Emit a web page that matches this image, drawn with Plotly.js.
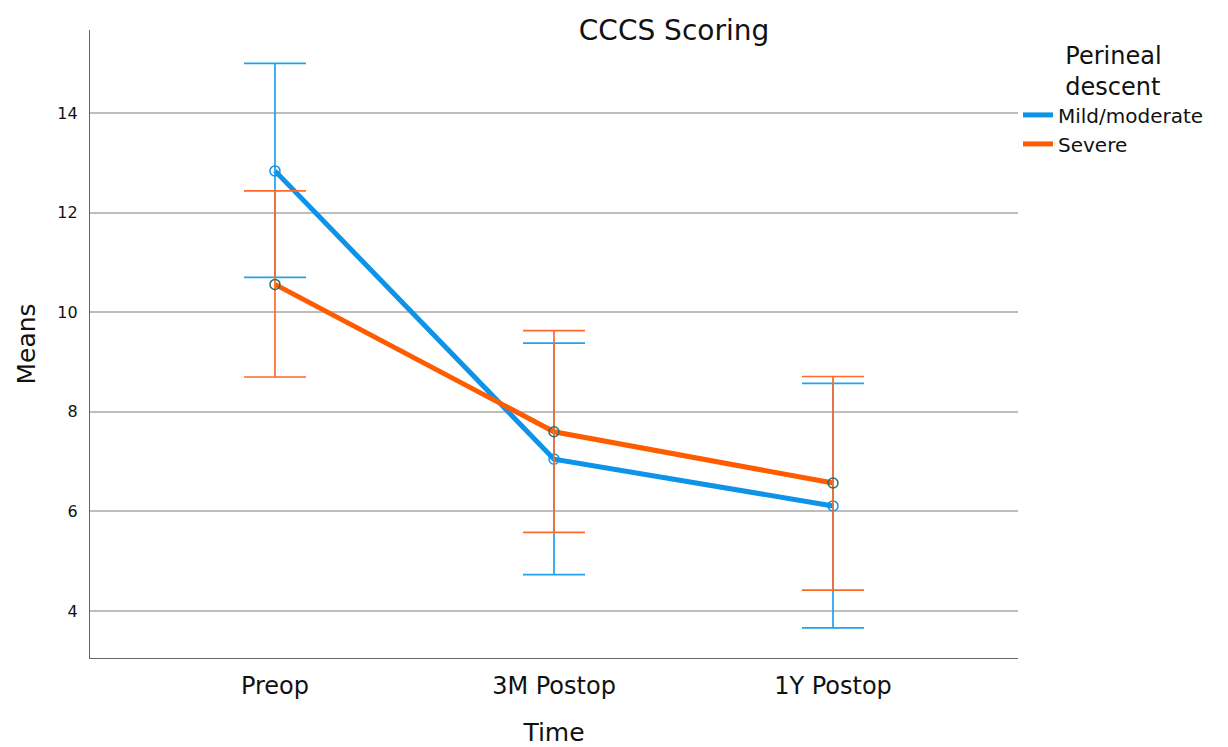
<!DOCTYPE html>
<html>
<head>
<meta charset="utf-8">
<script src="https://cdn.plot.ly/plotly-3.0.1.min.js"></script>
<style>html,body{margin:0;padding:0;background:#fff;}#chart{width:1228px;height:747px;}</style>
</head>
<body>
<div id="chart"></div>
<script>
const categories = ["Preop", "3M Postop", "1Y Postop"];
const mildMeans = [12.84, 7.05, 6.11];
const mildLower = [10.70, 4.73, 3.66];
const mildUpper = [15.00, 9.38, 8.57];
const severeMeans = [10.56, 7.60, 6.57];
const severeLower = [8.70, 5.58, 4.42];
const severeUpper = [12.44, 9.63, 8.71];
const yTicks = [4, 6, 8, 10, 12, 14];

const blueLine = '#0f93e8';
const blueErr = '#20a3ec';
const orangeLine = '#ff5c00';
const orangeErr = '#ff6a2a';
const FONT = 'DejaVu Sans, Liberation Sans, sans-serif';

function diff(a, b) { return a.map((v, i) => v - b[i]); }

const traces = [
  {x: categories, y: mildMeans, mode: 'lines', name: 'Mild/moderate',
   line: {color: blueLine, width: 5}},
  {x: categories, y: severeMeans, mode: 'lines', name: 'Severe',
   line: {color: orangeLine, width: 5}},
  {x: categories, y: mildMeans, mode: 'markers', showlegend: false, hoverinfo: 'skip',
   marker: {symbol: 'circle-open', size: 10, color: blueLine, line: {width: 1.5}},
   error_y: {type: 'data', symmetric: false, array: diff(mildUpper, mildMeans),
             arrayminus: diff(mildMeans, mildLower), color: blueErr, thickness: 1.7, width: 31}},
  {x: categories, y: severeMeans, mode: 'markers', showlegend: false, hoverinfo: 'skip',
   marker: {symbol: 'circle-open', size: 10, color: '#2e6e68', line: {width: 1.5}},
   error_y: {type: 'data', symmetric: false, array: diff(severeUpper, severeMeans),
             arrayminus: diff(severeMeans, severeLower), color: orangeErr, thickness: 1.7, width: 31}}
];

const layout = {
  width: 1228, height: 747,
  margin: {l: 90, r: 208, t: 30, b: 89},
  paper_bgcolor: '#fff', plot_bgcolor: '#fff',
  font: {family: FONT, color: '#111'},
  title: {text: 'CCCS Scoring', font: {size: 28, family: FONT, color: '#111'},
          x: 674/1228, xref: 'container', xanchor: 'center',
          y: 1 - 30/747, yref: 'container', yanchor: 'middle'},
  xaxis: {type: 'category', range: [-0.663, 2.663], showgrid: false,
          showline: true, linecolor: '#666', linewidth: 1.2, ticks: '',
          tickfont: {size: 24, family: FONT, color: '#111'}, ticklabelstandoff: 6,
          title: {text: 'Time', font: {size: 25, family: FONT, color: '#111'}, standoff: 26},
          zeroline: false, fixedrange: true},
  yaxis: {range: [3.055, 15.67], tickvals: yTicks, ticktext: yTicks.map(String),
          showgrid: true, gridcolor: '#bdbdbd', gridwidth: 2,
          showline: true, linecolor: '#666', linewidth: 1.2, ticks: '',
          tickfont: {size: 16, family: FONT, color: '#111'}, ticklabelstandoff: 8,
          title: {text: 'Means', font: {size: 25, family: FONT, color: '#111'}, standoff: 14},
          zeroline: false, fixedrange: true},
  legend: {xref: 'container', yref: 'container', x: 1018/1228, y: 1 - 33/747,
           xanchor: 'left', yanchor: 'top', bgcolor: 'rgba(0,0,0,0)',
           font: {size: 20, family: FONT, color: '#111'}, tracegroupgap: 0,
           itemwidth: 30,
           title: {text: 'Perineal<br>descent', side: 'top center',
                   font: {size: 24, family: FONT, color: '#111'}}},
  showlegend: true
};

Plotly.newPlot('chart', traces, layout, {displayModeBar: false, staticPlot: true});
</script>
</body>
</html>
